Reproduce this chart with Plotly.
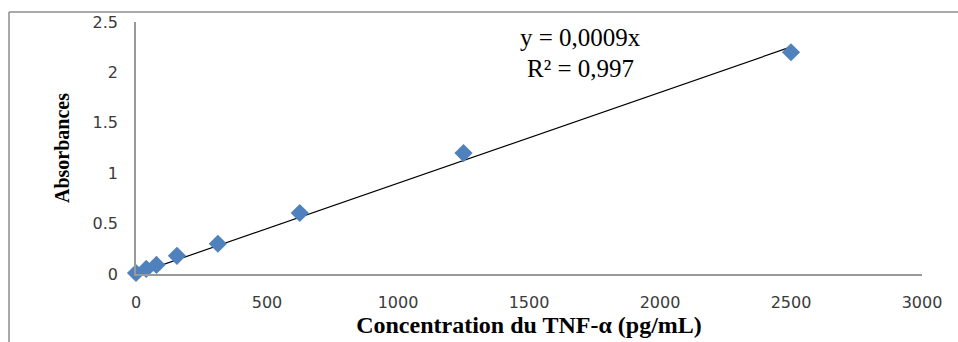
import numpy as np
import plotly.graph_objects as go

# TNF-α standard curve
concentration = [0, 39, 78, 156.25, 312.5, 625, 1250, 2500]
absorbance = [0.01, 0.05, 0.09, 0.18, 0.30, 0.605, 1.20, 2.20]
x_ticks = [0, 500, 1000, 1500, 2000, 2500, 3000]
y_ticks = [0, 0.5, 1, 1.5, 2, 2.5]
y_tick_text = ["0", "0.5", "1", "1.5", "2", "2.5"]
equation_lines = ["y = 0,0009x", "R² = 0,997"]

x = np.array(concentration, dtype=float)
y = np.array(absorbance, dtype=float)
# least-squares line forced through the origin
slope = float((x * y).sum() / (x * x).sum())
fit_x = [0, max(concentration)]
fit_y = [slope * v for v in fit_x]

W, H = 958, 342
L, R, T, B = 136, 36, 22, 68
pw, ph = W - L - R, H - T - B


def px(xp):
    return (xp - L) / pw


def py(yp):
    return (H - yp - B) / ph


fig = go.Figure()
fig.add_trace(go.Scatter(x=fit_x, y=fit_y, mode="lines",
                         line=dict(color="black", width=1.2),
                         hoverinfo="skip", showlegend=False))
fig.add_trace(go.Scatter(x=concentration, y=absorbance, mode="markers",
                         cliponaxis=False,
                         marker=dict(symbol="diamond", size=14, color="#4F81BD",
                                     line=dict(width=0)),
                         showlegend=False))

tick_font = dict(family="DejaVu Sans", size=16, color="#3a3a3a")
fig.update_xaxes(range=[0, 3000], tickvals=x_ticks, showgrid=False, zeroline=False,
                 showline=True, linecolor="#999999", linewidth=1.5, automargin=False,
                 ticks="", tickfont=tick_font, ticklabelstandoff=13,
                 title=dict(text="<b>Concentration du TNF-α (pg/mL)</b>",
                            font=dict(family="Liberation Serif", size=24, color="black"),
                            standoff=0))
fig.update_yaxes(range=[0, 2.5], tickvals=y_ticks, ticktext=y_tick_text,
                 showgrid=False, zeroline=False, automargin=False,
                 showline=True, linecolor="#999999", linewidth=1.5,
                 ticks="", tickfont=tick_font, ticklabelstandoff=13,
                 title=dict(text="<b>Absorbances</b>",
                            font=dict(family="Liberation Serif", size=20, color="black"),
                            standoff=18))

# outer frame (top and left edges)
fig.add_shape(type="line", xref="paper", yref="paper", x0=px(9), x1=px(W),
              y0=py(12), y1=py(12), line=dict(color="#8c8c8c", width=1.5))
fig.add_shape(type="line", xref="paper", yref="paper", x0=px(9), x1=px(9),
              y0=py(12), y1=py(H), line=dict(color="#8c8c8c", width=1.5))

for text, yc in zip(equation_lines, [37, 68]):
    fig.add_annotation(x=px(580), y=py(yc), xref="paper", yref="paper",
                       text=text, showarrow=False, xanchor="center", yanchor="middle",
                       font=dict(family="Liberation Serif", size=25, color="black"))

fig.update_layout(width=W, height=H, margin=dict(l=L, r=R, t=T, b=B),
                  paper_bgcolor="white", plot_bgcolor="white")
fig.write_html("out.html")
